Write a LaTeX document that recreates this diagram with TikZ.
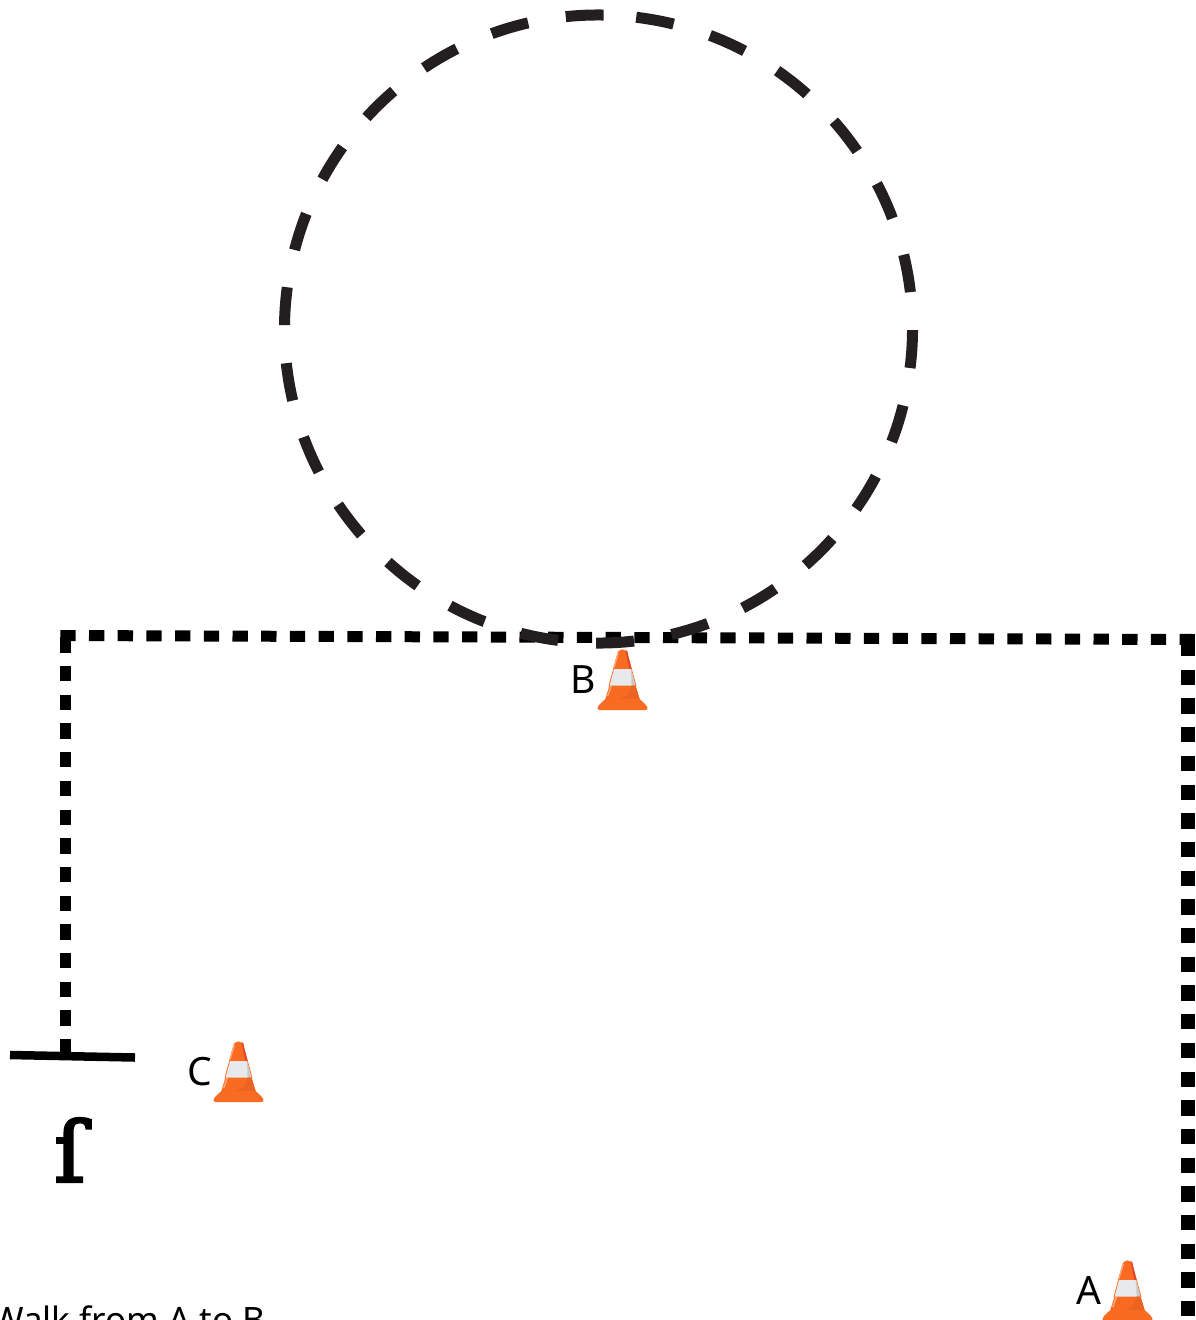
\documentclass[tikz,border=0pt]{standalone}
\usepackage{fontspec}
\setmainfont{Noto Sans}
\newfontfamily\hookfont[FakeBold=3]{DejaVu Serif}
\definecolor{ringgrey}{HTML}{231F20}
\definecolor{coneorange}{HTML}{F96B21}
\definecolor{conedark}{HTML}{EC6423}
\definecolor{conelight}{HTML}{FCA77A}
\definecolor{conewhite}{HTML}{E6EAEA}
\definecolor{conegrey}{HTML}{C9CBCB}
\definecolor{conered}{HTML}{E5422B}
\tikzset{
  walkline/.style={draw=black,line width=#1,dash pattern=on 15.3pt off 13.4pt},
  ringline/.style={draw=ringgrey,line width=11pt,dash pattern=on 38pt off 38.1pt},
  conelabel/.style={font=\fontsize{39}{46}\selectfont,text=black,inner sep=0pt,anchor=center},
  cone/.pic={
    % drawn from the tip (0,0) to the base, 52 wide and 61 high
    \fill[coneorange] (-5.5,6) .. controls (-4.5,-1.5) and (4.5,-1.5) .. (5.5,6) -- (14,37) -- (-14,37) -- cycle;
    \fill[conered] (3,0.5) .. controls (5,1.5) and (5.5,3) .. (5.5,6) -- (9,20) -- (7,20) -- (4,6) .. controls (4,3.5) and (3.5,2) .. (3,0.5) -- cycle;
    \fill[conewhite] (-8.5,20) -- (8.5,20) -- (13,37) -- (-13,37) -- cycle;
    \fill[conegrey] (8,20) -- (8.5,20) -- (13,37) -- (9,37) .. controls (9,31) and (9,25) .. (8,20) -- cycle;
    \fill[coneorange] (-13,36.5) -- (13,36.5) -- (17.5,51) -- (-17.5,51) -- cycle;
    \fill[conedark] (9,36.5) -- (13,36.5) -- (17,50) .. controls (6,56) and (-8,55) .. (-14,50) .. controls (-3,52) and (8,48) .. (9,36.5) -- cycle;
    \fill[conelight] (-5,4) -- (-3.5,4) -- (-8,19) -- (-9.5,19) -- cycle;
    \fill[conelight] (-12,37) -- (-10.5,37) -- (-14,47) -- (-15.5,47) -- cycle;
    \fill[coneorange,rounded corners=2.5pt] (-25.5,61) -- (-24.5,57) -- (-17.5,50) -- (17.5,50) -- (24.5,57) -- (25.5,61) -- cycle;
  }
}
\begin{document}
\begin{tikzpicture}[x=1pt,y=-1pt]
\useasboundingbox (0,0) rectangle (1195,1320);
%corners of the walk
\coordinate (corner) at (65.5,637.3);
\coordinate (start) at (65.5,1055);
\coordinate (topleft) at (60.3,635.5);
\coordinate (topright) at (1195,639.5);
\coordinate (turn) at (1188,641);
\coordinate (finish) at (1188,1325);
\coordinate (barleft) at (10,1055);
\coordinate (barright) at (135,1057.5);
\draw [walkline=11pt](corner) -- (start);
\draw [walkline=11pt](topleft) -- (topright);
\draw [walkline=14pt](turn) -- (finish);
\draw [line width=8.5pt](barleft) -- (barright);
\draw [ringline] (598.5,329) ++(-83.1:314) arc (-83.1:276.9:314);
%add cones
\foreach \conename/\conex/\coney in {A/1127.5/1260,B/622.5/649,C/238.5/1041}{
    \pic at (\conex,\coney) {cone};
    \node [conelabel] (label\conename) at (\conex-39,\coney+31) {\conename};
};
\node [inner sep=0pt,font=\hookfont\fontsize{84}{84}\selectfont] (hook) at (70,1150) {ſ};
\node [inner sep=0pt,anchor=base west,font=\fontsize{35}{42}\selectfont] (caption) at (-9,1332) {Walk from A to B};
\end{tikzpicture}
\end{document}
